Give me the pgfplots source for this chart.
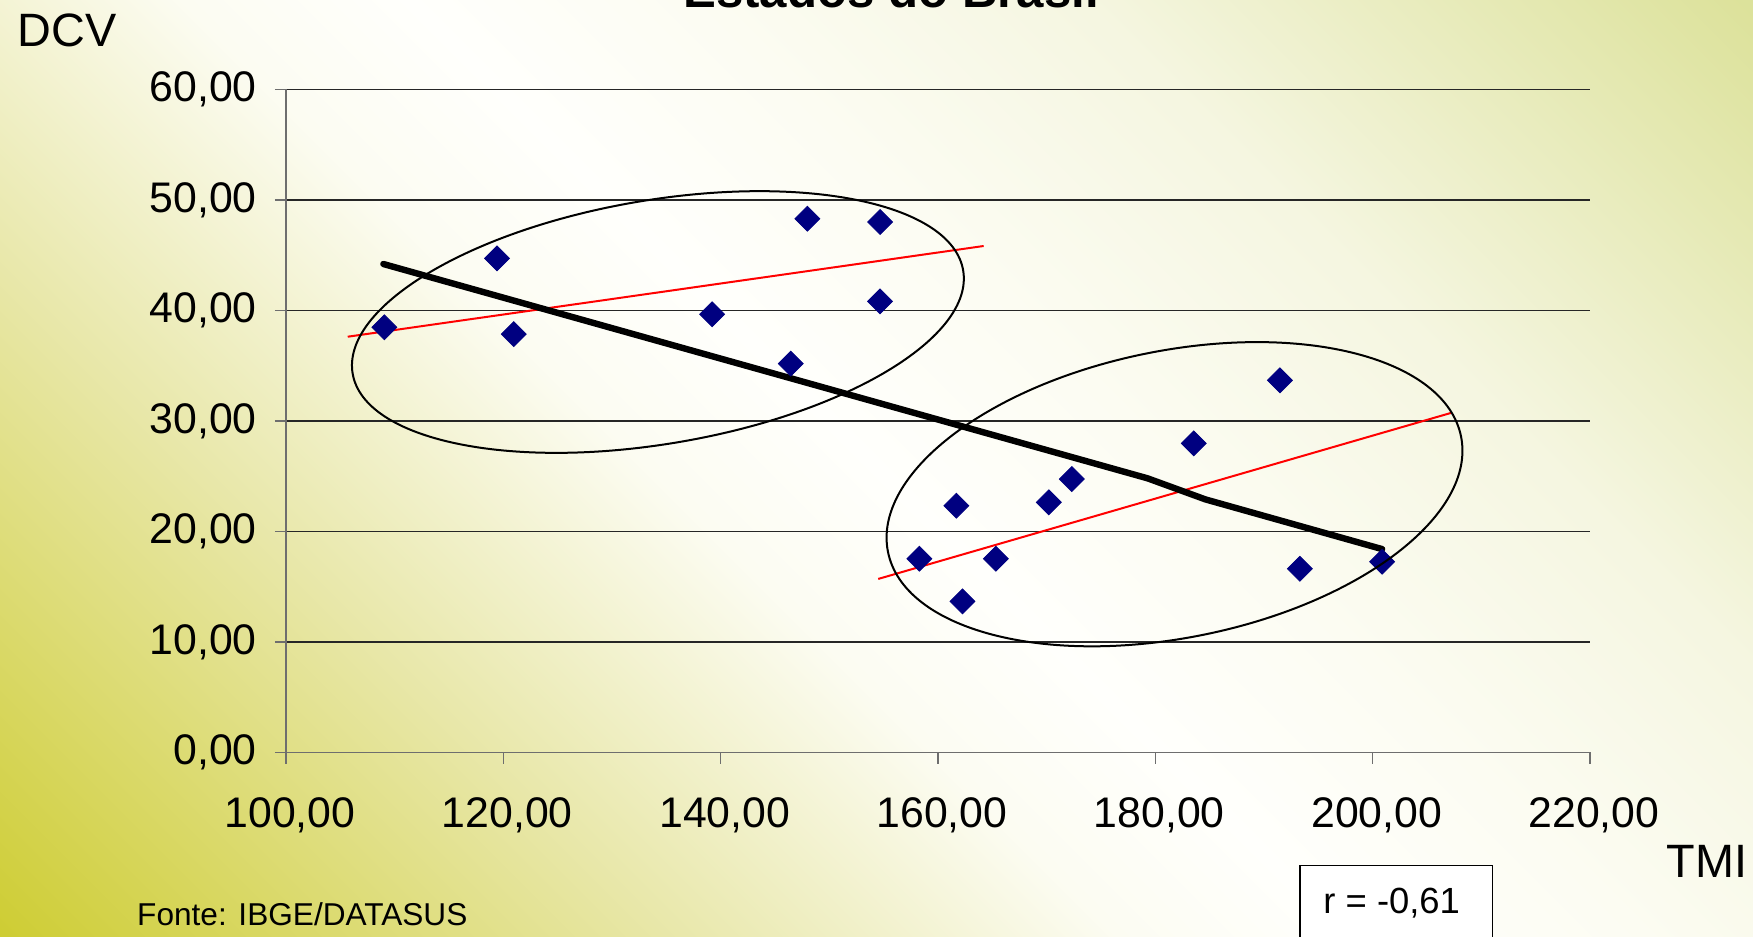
\documentclass[border=0pt]{standalone}
\usepackage{fontspec}
\setmainfont{Liberation Sans}
\usepackage{pgfplots}
\pgfplotsset{compat=1.18}
\definecolor{navyd}{RGB}{0,0,128}
\definecolor{axgray}{RGB}{110,110,110}
\pgfdeclarehorizontalshading{bgshade}{100bp}{%
rgb(0bp)=(0.784,0.784,0.118);
rgb(14.6bp)=(0.808,0.804,0.204);
rgb(32bp)=(0.910,0.906,0.660);
rgb(44bp)=(0.988,0.988,0.949);
rgb(50bp)=(1,1,0.988);
rgb(58bp)=(0.988,0.988,0.949);
rgb(68bp)=(0.960,0.964,0.880);
rgb(85bp)=(0.865,0.886,0.610);
rgb(100bp)=(0.824,0.855,0.510)}
\begin{document}
\begin{tikzpicture}
\useasboundingbox (0,0) rectangle (438.25pt,234pt);
\shade[shading=bgshade, shading angle=45] (0,0) rectangle (438.25pt,234pt);
\begin{axis}[
  at={(71.5pt,45.9pt)}, anchor=south west,
  width=326pt, height=165.75pt, scale only axis,
  xmin=100, xmax=220, ymin=0, ymax=60,
  xtick={100,120,...,220}, ytick={0,10,...,60},
  axis x line*=bottom, axis y line*=left,
  axis line style={-, draw=axgray, line width=0.4pt},
  ymajorgrids, grid style={black!85, line width=0.3pt},
  tick align=outside, major tick length=2.8pt,
  tick style={axgray, line width=0.4pt},
  tick label style={font=\fontsize{10.7}{12}\selectfont},
  xticklabel style={anchor=base, yshift=-16pt, xshift=1pt},
  yticklabel style={anchor=east, xshift=-1pt},
  /pgf/number format/.cd, fixed, fixed zerofill, precision=2, use comma, assume math mode=true,
  /pgfplots/.cd,
  clip=false,
]
\addplot[only marks, mark=square*, mark size=2.2pt,
  mark options={rotate=45, fill=navyd, draw=navyd, line width=0.2pt}] coordinates {
(109.05,38.47) (119.42,44.71) (120.96,37.86) (139.21,39.65) (146.45,35.18)
(147.98,48.30) (154.67,48.00) (154.67,40.82) (158.29,17.53) (161.69,22.33)
(162.25,13.67) (165.32,17.53) (170.20,22.63) (172.31,24.74) (183.54,27.97)
(191.46,33.67) (193.30,16.62) (200.87,17.26)};
\addplot[red, line width=0.5pt] coordinates {(105.68,37.62) (164.2,45.83)};
\addplot[red, line width=0.5pt] coordinates {(154.5,15.7) (207.3,30.75)};
\addplot[black, line width=1.6pt, line cap=round, line join=round] coordinates {
(108.96,44.2) (179.3,24.8) (184.6,22.9) (200.87,18.4)};
\end{axis}
\begin{scope}[x=0.25pt, y=0.25pt]
\draw[black, line width=0.5pt, rotate around={9.6:(657.9,614)}] (657.9,614) ellipse [x radius=309.6, y radius=121.9];
\draw[black, line width=0.5pt, rotate around={11.4:(1174.5,441.8)}] (1174.5,441.8) ellipse [x radius=292.3, y radius=143.5];
\node[anchor=base, inner sep=0pt, font=\bfseries\fontsize{12.3}{14}\selectfont] at (891,929) {Estados do Brasil};
\node[anchor=base west, inner sep=0pt, font=\fontsize{11.7}{14}\selectfont] at (16.8,889.3) {DCV};
\node[anchor=base west, inner sep=0pt, font=\fontsize{11.7}{14}\selectfont] at (1666,58.3) {TMI};
\node[anchor=base west, inner sep=0pt, font=\fontsize{7.9}{9}\selectfont] at (136.4,10.1) {Fonte: IBGE/DATASUS};
\draw[black, line width=0.4pt, fill=white] (1300,70.7) rectangle (1492.6,-40);
\node[anchor=base west, inner sep=0pt, font=\fontsize{9.1}{11}\selectfont] at (1322.6,23) {r = -0,61};
\end{scope}
\end{tikzpicture}
\end{document}
